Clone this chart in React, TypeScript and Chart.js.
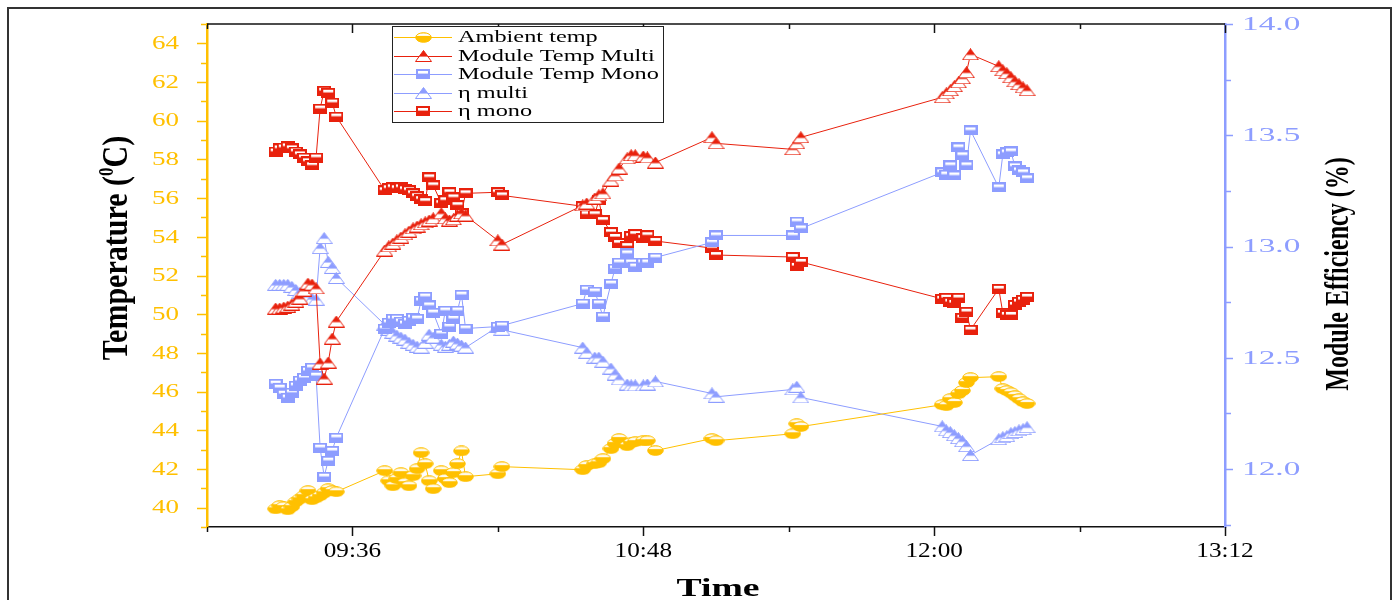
import React, { useEffect, useRef } from 'react';
import { Chart, registerables } from 'chart.js';

Chart.register(...registerables);

// ---------------- data ----------------
const times = [
  '09:17', '09:18', '09:19', '09:20', '09:21', '09:22', '09:23', '09:24', '09:25', '09:26', '09:27', '09:28', '09:29', '09:30', '09:31', '09:32',
  '09:44', '09:45', '09:46', '09:47', '09:48', '09:49', '09:50', '09:51', '09:52', '09:53', '09:54', '09:55', '09:56', '09:58', '09:59', '10:00', '10:01', '10:02', '10:03', '10:04', '10:12', '10:13',
  '10:33', '10:34', '10:36', '10:37', '10:38', '10:40', '10:41', '10:42', '10:44', '10:45', '10:46', '10:48', '10:49', '10:51',
  '11:05', '11:06',
  '11:25', '11:26', '11:27',
  '12:02', '12:03', '12:04', '12:05', '12:06', '12:07', '12:08', '12:09', '12:16', '12:17', '12:18', '12:19', '12:20', '12:21', '12:22', '12:23',
];

const ambientTemp = [
  39.94, 40.10, 40.05, 39.89, 40.05, 40.31, 40.46, 40.62, 40.88, 40.41, 40.51, 40.62, 40.77, 40.98, 40.88, 40.82,
  41.91, 41.39, 41.13, 41.50, 41.81, 41.29, 41.13, 41.65, 42.01, 42.84, 42.27, 41.39, 40.98, 41.91, 41.50, 41.29, 41.81, 42.27, 42.93, 41.60, 41.75, 42.12,
  41.96, 42.17, 42.27, 42.32, 42.53, 43.05, 43.31, 43.57, 43.20, 43.36, 43.41, 43.46, 43.46, 42.95,
  43.57, 43.46,
  43.82, 44.34, 44.19,
  45.32, 45.27, 45.63, 45.43, 45.89, 46.05, 46.46, 46.72, 46.77, 46.15, 46.05, 45.94, 45.79, 45.63, 45.48, 45.38,
];

const moduleTempMulti = [
  50.29, 50.29, 50.34, 50.39, 50.50, 50.65, 50.81, 51.22, 51.58, 51.53, 51.33, 47.45, 46.67, 47.50, 48.74, 49.62,
  53.29, 53.50, 53.65, 53.81, 53.96, 54.12, 54.27, 54.43, 54.53, 54.64, 54.74, 54.84, 54.95, 55.21, 54.95, 54.84, 54.90, 55.10, 55.21, 55.10, 53.81, 53.60,
  55.62, 55.72, 55.98, 56.14, 56.24, 56.91, 57.17, 57.53, 58.05, 58.21, 58.21, 58.15, 58.10, 57.84,
  59.14, 58.83,
  58.52, 58.83, 59.14,
  61.21, 61.41, 61.57, 61.78, 61.98, 62.19, 62.50, 63.43, 62.81, 62.60, 62.45, 62.24, 62.03, 61.88, 61.72, 61.57,
];

const moduleTempMono = [
  46.41, 46.20, 45.89, 45.69, 45.95, 46.31, 46.57, 46.72, 47.08, 47.24, 46.82, 43.10, 41.60, 42.43, 42.94, 43.62,
  49.26, 49.57, 49.77, 49.77, 49.62, 49.51, 49.67, 49.82, 49.77, 50.70, 50.91, 50.45, 50.08, 49.00, 50.19, 49.36, 49.77, 50.19, 51.01, 49.26, 49.36, 49.41,
  50.55, 51.27, 51.17, 50.55, 49.88, 51.58, 52.36, 52.67, 53.14, 52.67, 52.46, 52.67, 52.67, 52.93,
  53.71, 54.07,
  54.07, 54.79, 54.43,
  57.33, 57.22, 57.69, 57.17, 58.62, 58.21, 57.69, 59.50, 56.55, 58.26, 58.36, 58.41, 57.64, 57.43, 57.33, 57.02,
];

const etaMulti = [
  12.828, 12.828, 12.828, 12.828, 12.819, 12.805, 12.792, 12.783, 12.774, 12.765, 12.761, 12.993, 13.038, 12.931, 12.904, 12.859,
  12.649, 12.626, 12.613, 12.600, 12.591, 12.582, 12.568, 12.559, 12.550, 12.546, 12.568, 12.604, 12.591, 12.559, 12.550, 12.559, 12.573, 12.564, 12.555, 12.546, 12.640, 12.626,
  12.546, 12.523, 12.501, 12.501, 12.483, 12.452, 12.425, 12.403, 12.380, 12.376, 12.376, 12.376, 12.380, 12.394,
  12.340, 12.325,
  12.358, 12.370, 12.322,
  12.192, 12.174, 12.166, 12.152, 12.139, 12.125, 12.103, 12.063, 12.134, 12.143, 12.148, 12.161, 12.166, 12.174, 12.179, 12.188,
];

const etaMono = [
  13.427, 13.441, 13.445, 13.450, 13.441, 13.427, 13.414, 13.400, 13.383, 13.365, 13.400, 13.620, 13.700, 13.691, 13.647, 13.584,
  13.253, 13.262, 13.266, 13.262, 13.266, 13.257, 13.253, 13.239, 13.226, 13.213, 13.204, 13.311, 13.275, 13.195, 13.208, 13.244, 13.221, 13.186, 13.150, 13.239, 13.244, 13.230,
  13.181, 13.145, 13.145, 13.208, 13.119, 13.065, 13.043, 13.016, 13.002, 13.047, 13.056, 13.038, 13.051, 13.025,
  12.993, 12.962,
  12.953, 12.913, 12.931,
  12.765, 12.770, 12.752, 12.747, 12.770, 12.680, 12.707, 12.626, 12.810, 12.702, 12.693, 12.693, 12.738, 12.752, 12.761, 12.774,
];

const seriesLabels = ['Ambient temp', 'Module Temp Multi', 'Module Temp Mono', 'η multi', 'η mono'];
const xTickLabels = ['09:36', '10:48', '12:00', '13:12'];
const leftTickLabels = ['40', '42', '44', '46', '48', '50', '52', '54', '56', '58', '60', '62', '64'];
const rightTickLabels = ['12.0', '12.5', '13.0', '13.5', '14.0'];
const xTitle = 'Time';
const leftTitle = ['Temperature (', '0', 'C)'];
const rightTitle = 'Module Efficiency (%)';

// ---------------- styles ----------------
const YELLOW = '#FFC000';
const RED = '#E8210D';
const BLUE = '#8D9DFF';
const SERIF = '"Liberation Serif", "Times New Roman", serif';

const X_MIN = 9 * 60;
const X_MAX = 13 * 60 + 12;
const L_MIN = 39;
const L_MAX = 65;
const R_MIN = 11.74;
const R_MAX = 14;

const toMin = (t: string) => {
  const [h, m] = t.split(':').map(Number);
  return h * 60 + m;
};

function makeMarker(kind: string, color: string): HTMLCanvasElement {
  const c = document.createElement('canvas');
  let w = 14, h = 10;
  if (kind === 'triangle') { w = 17; h = 12; }
  if (kind === 'ellipse') { w = 17; h = 11; }
  c.width = w; c.height = h;
  const g = c.getContext('2d')!;
  g.lineWidth = 1;
  if (kind === 'square') {
    g.fillStyle = color;
    g.fillRect(0.5, 0.5, w - 1, h - 1);
    g.fillStyle = '#fff';
    g.fillRect(2, 2, w - 4, 2.6);
    g.strokeStyle = color;
    g.strokeRect(0.5, 0.5, w - 1, h - 1);
  } else if (kind === 'triangle') {
    g.beginPath();
    g.moveTo(w / 2, 0.5);
    g.lineTo(w - 0.5, h - 0.5);
    g.lineTo(0.5, h - 0.5);
    g.closePath();
    g.fillStyle = '#fff';
    g.fill();
    g.save();
    g.clip();
    g.fillStyle = color;
    g.fillRect(0, 0, w, h * 0.55);
    g.restore();
    g.strokeStyle = color;
    g.stroke();
  } else {
    g.beginPath();
    g.ellipse(w / 2, h / 2, w / 2 - 0.7, h / 2 - 0.7, 0, 0, Math.PI * 2);
    g.fillStyle = color;
    g.fill();
    g.save();
    g.clip();
    g.fillStyle = '#fff';
    g.fillRect(2, 1.3, w - 4, 2.6);
    g.restore();
    g.strokeStyle = color;
    g.stroke();
  }
  return c;
}

function drawText(ctx: CanvasRenderingContext2D, s: string, x: number, y: number, font: string, color: string, sx: number, align: CanvasTextAlign, baseline: CanvasTextBaseline = 'middle') {
  ctx.save();
  ctx.translate(x, y);
  ctx.scale(sx, 1);
  ctx.font = font;
  ctx.fillStyle = color;
  ctx.textAlign = align;
  ctx.textBaseline = baseline;
  ctx.fillText(s, 0, 0);
  ctx.restore();
}

function seg(ctx: CanvasRenderingContext2D, x1: number, y1: number, x2: number, y2: number) {
  ctx.beginPath();
  ctx.moveTo(x1, y1);
  ctx.lineTo(x2, y2);
  ctx.stroke();
}

export default function App() {
  const ref = useRef<HTMLCanvasElement>(null);

  useEffect(() => {
    const canvas = ref.current!;
    const colors = [YELLOW, RED, BLUE, BLUE, RED];
    const kinds = ['ellipse', 'triangle', 'square', 'triangle', 'square'];
    const axes = ['y', 'y', 'y', 'y1', 'y1'];
    const values = [ambientTemp, moduleTempMulti, moduleTempMono, etaMulti, etaMono];
    const markers = kinds.map((k, i) => makeMarker(k, colors[i]));

    const datasets = seriesLabels.map((label, i) => ({
      label,
      data: times.map((t, j) => ({ x: toMin(t), y: values[i][j] })),
      yAxisID: axes[i],
      borderColor: colors[i],
      backgroundColor: colors[i],
      borderWidth: 1,
      pointStyle: markers[i] as any,
      pointRadius: 6,
      tension: 0,
      showLine: true,
    }));

    const decor = {
      id: 'decor',
      afterDraw(chart: any) {
        const ctx: CanvasRenderingContext2D = chart.ctx;
        const { left, right, top, bottom } = chart.chartArea;
        const xs = chart.scales.x, yl = chart.scales.y, yr = chart.scales.y1;
        ctx.save();

        // outer frame
        ctx.strokeStyle = '#333';
        ctx.lineWidth = 2;
        ctx.strokeRect(8, 8, 1383, 700);

        // top border
        ctx.strokeStyle = '#111';
        ctx.lineWidth = 1.5;
        seg(ctx, left, top, right, top);

        // x ticks (bottom outward, top inward)
        ctx.lineWidth = 1.5;
        for (let m = X_MIN; m <= X_MAX; m += 36) {
          const px = Math.round(xs.getPixelForValue(m)) + 0.5;
          const major = ((m - X_MIN) / 36) % 2 === 1;
          const len = major ? 9 : 5;
          ctx.strokeStyle = '#111';
          seg(ctx, px, bottom, px, bottom + len);
          seg(ctx, px, top, px, top + len);
        }
        xTickLabels.forEach((lab) => {
          const px = xs.getPixelForValue(toMin(lab));
          drawText(ctx, lab, px, 551, '21px ' + SERIF, '#000', 1.2, 'center');
        });

        // left ticks
        ctx.strokeStyle = YELLOW;
        ctx.lineWidth = 1.5;
        for (let v = L_MIN; v <= L_MAX; v += 1) {
          const py = Math.round(yl.getPixelForValue(v)) + 0.5;
          const len = v % 2 === 0 ? 10 : 6;
          seg(ctx, left - len, py, left, py);
        }
        leftTickLabels.forEach((lab) => {
          const py = yl.getPixelForValue(Number(lab));
          drawText(ctx, lab, 179, py + 1, '18px ' + SERIF, YELLOW, 1.5, 'right');
        });

        // right ticks
        ctx.strokeStyle = BLUE;
        for (let k = 0; k <= 9; k++) {
          const v = 11.75 + k * 0.25;
          if (v < R_MIN) continue;
          const py = Math.round(yr.getPixelForValue(v)) + 0.5;
          const len = k % 2 === 1 ? 8 : 6;
          seg(ctx, right, py, right + len, py);
        }
        rightTickLabels.forEach((lab) => {
          const py = yr.getPixelForValue(Number(lab));
          drawText(ctx, lab, 1242, py + 1, '18px ' + SERIF, BLUE, 1.85, 'left');
        });

        // x title
        drawText(ctx, xTitle, 718, 596, 'bold 26px ' + SERIF, '#000', 1.45, 'center', 'alphabetic');

        // left title with superscript
        ctx.save();
        ctx.translate(115, 248);
        ctx.rotate(-Math.PI / 2);
        ctx.scale(1, 1.2);
        const big = 'bold 30px ' + SERIF;
        const small = 'bold 17px ' + SERIF;
        ctx.font = big;
        const w1 = ctx.measureText(leftTitle[0]).width;
        const w3 = ctx.measureText(leftTitle[2]).width;
        ctx.font = small;
        const w2 = ctx.measureText(leftTitle[1]).width;
        const x0 = -(w1 + w2 + w3) / 2;
        ctx.fillStyle = '#000';
        ctx.textAlign = 'left';
        ctx.textBaseline = 'alphabetic';
        ctx.font = big;
        ctx.fillText(leftTitle[0], x0, 10);
        ctx.font = small;
        ctx.fillText(leftTitle[1], x0 + w1, -2);
        ctx.font = big;
        ctx.fillText(leftTitle[2], x0 + w1 + w2, 10);
        ctx.restore();

        // right title
        ctx.save();
        ctx.translate(1337, 274);
        ctx.rotate(-Math.PI / 2);
        ctx.scale(1, 1.4);
        ctx.font = 'bold 24px ' + SERIF;
        ctx.fillStyle = '#000';
        ctx.textAlign = 'center';
        ctx.textBaseline = 'alphabetic';
        ctx.fillText(rightTitle, 0, 8);
        ctx.restore();

        // legend
        ctx.fillStyle = '#fff';
        ctx.fillRect(392, 26, 272, 97);
        ctx.strokeStyle = '#222';
        ctx.lineWidth = 1;
        ctx.strokeRect(392.5, 26.5, 271, 96);
        seriesLabels.forEach((lab, i) => {
          const y = 37 + i * 18.5;
          ctx.strokeStyle = colors[i];
          ctx.lineWidth = 1;
          seg(ctx, 394, Math.round(y) + 0.5, 452, Math.round(y) + 0.5);
          const mk = markers[i];
          ctx.drawImage(mk, Math.round(423 - mk.width / 2), Math.round(y - mk.height / 2));
          drawText(ctx, lab, 458, y + 1, '17px ' + SERIF, '#000', 1.43, 'left');
        });

        ctx.restore();
      },
    };

    const chart = new Chart(canvas, {
      type: 'line',
      data: { datasets: datasets as any },
      options: {
        animation: false,
        responsive: false,
        devicePixelRatio: 1,
        layout: { padding: { top: 24, left: 0, right: 0, bottom: 0 } },
        plugins: { legend: { display: false }, tooltip: { enabled: false } },
        scales: {
          x: {
            type: 'linear',
            position: 'bottom',
            min: X_MIN,
            max: X_MAX,
            grid: { display: false },
            ticks: { display: false },
            border: { display: true, color: '#111', width: 1.5 },
            afterFit: (s: any) => { s.height = 73; },
          },
          y: {
            type: 'linear',
            position: 'left',
            min: L_MIN,
            max: L_MAX,
            grid: { display: false },
            ticks: { display: false },
            border: { display: true, color: YELLOW, width: 2.5 },
            afterFit: (s: any) => { s.width = 207; },
          },
          y1: {
            type: 'linear',
            position: 'right',
            min: R_MIN,
            max: R_MAX,
            grid: { display: false },
            ticks: { display: false },
            border: { display: true, color: BLUE, width: 2.5 },
            afterFit: (s: any) => { s.width = 172; },
          },
        },
      } as any,
      plugins: [decor],
    });
    return () => chart.destroy();
  }, []);

  return (
    <div style={{ position: 'fixed', left: 0, top: 0, width: 1397, height: 600, background: '#fff' }}>
      <canvas ref={ref} width={1397} height={600} style={{ display: 'block', width: 1397, height: 600 }} />
    </div>
  );
}
